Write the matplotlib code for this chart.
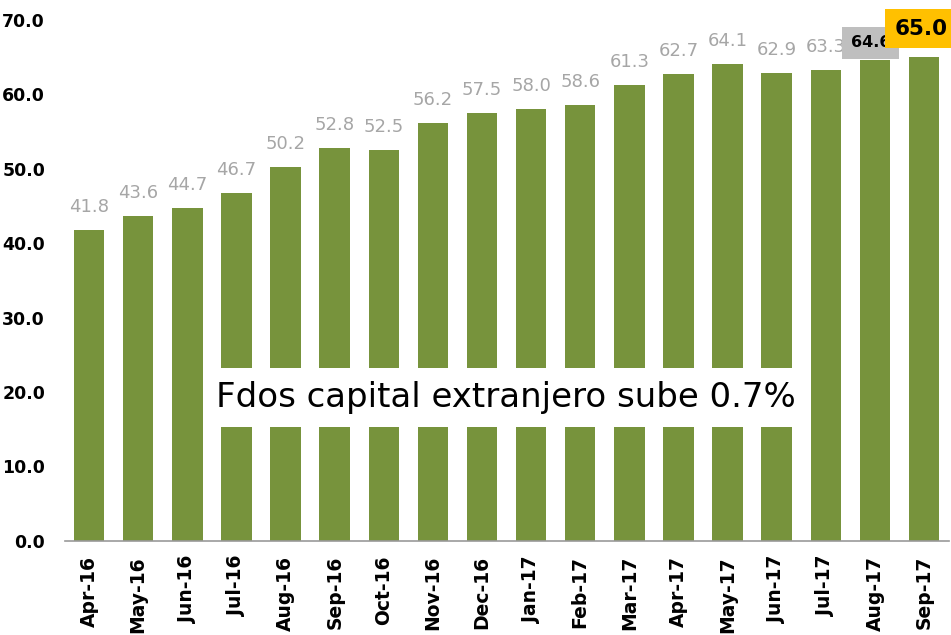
import matplotlib.pyplot as plt
from matplotlib.patches import Rectangle

months = ['Apr-16', 'May-16', 'Jun-16', 'Jul-16', 'Aug-16', 'Sep-16', 'Oct-16',
          'Nov-16', 'Dec-16', 'Jan-17', 'Feb-17', 'Mar-17', 'Apr-17', 'May-17',
          'Jun-17', 'Jul-17', 'Aug-17', 'Sep-17']
values = [41.8, 43.6, 44.7, 46.7, 50.2, 52.8, 52.5, 56.2, 57.5, 58.0, 58.6,
          61.3, 62.7, 64.1, 62.9, 63.3, 64.6, 65.0]
titulo = 'Fdos capital extranjero sube 0.7%'

verde = '#77933C'

fig = plt.figure(figsize=(9.51, 6.35), dpi=100)
ax = fig.add_axes([64.5/951, 1-540.7/635, (948.6-64.5)/951, (540.7-20)/635])

x = range(len(months))
ax.bar(x, values, width=0.62, color=verde, zorder=2)

ax.set_xlim(-0.5, len(months)-0.5)
ax.set_ylim(0, 70)
ax.set_yticks(range(0, 71, 10))
ax.set_yticklabels(['{:.1f}'.format(v) for v in range(0, 71, 10)],
                   fontsize=12.5, fontweight='bold')
ax.set_xticks(list(x))
ax.set_xticklabels(months, rotation=90, fontsize=13.5, fontweight='bold')
ax.tick_params(axis='y', length=0, pad=14)
ax.tick_params(axis='x', length=0, pad=11)
for s in ['top', 'right', 'left']:
    ax.spines[s].set_visible(False)
ax.spines['bottom'].set_color('#999999')
ax.spines['bottom'].set_linewidth(1.2)

# etiquetas de datos
n = len(values)
for i, v in enumerate(values):
    if i == n-2:
        ax.annotate('{:.1f}'.format(v), (i, v), xytext=(-3, 12.5),
                    textcoords='offset points', ha='center', va='center',
                    fontsize=11.5, fontweight='bold', color='black', zorder=6,
                    annotation_clip=False,
                    bbox=dict(boxstyle='square,pad=0.55', fc='#BFBFBF', ec='none'))
    elif i == n-1:
        ax.annotate('{:.1f}'.format(v), (i, v), xytext=(-2, 20.5),
                    textcoords='offset points', ha='center', va='center',
                    fontsize=15.5, fontweight='bold', color='black', zorder=7,
                    annotation_clip=False,
                    bbox=dict(boxstyle='square,pad=0.45', fc='#FFC000', ec='none'))
    else:
        ax.annotate('{:.1f}'.format(v), (i, v), xytext=(0, 16.5),
                    textcoords='offset points', ha='center', va='center',
                    fontsize=13, color='#A6A6A6', zorder=5,
                    annotation_clip=False)

# recuadro con el titulo
ax.add_patch(Rectangle((2.34, 15.3), 14.62-2.34, 23.2-15.3,
                       facecolor='white', edgecolor='none', zorder=3))
ax.text((2.34+14.62)/2, 19.3, titulo, ha='center', va='center',
        fontsize=24.5, color='black', zorder=4)

fig.savefig('out.png', dpi=100)
